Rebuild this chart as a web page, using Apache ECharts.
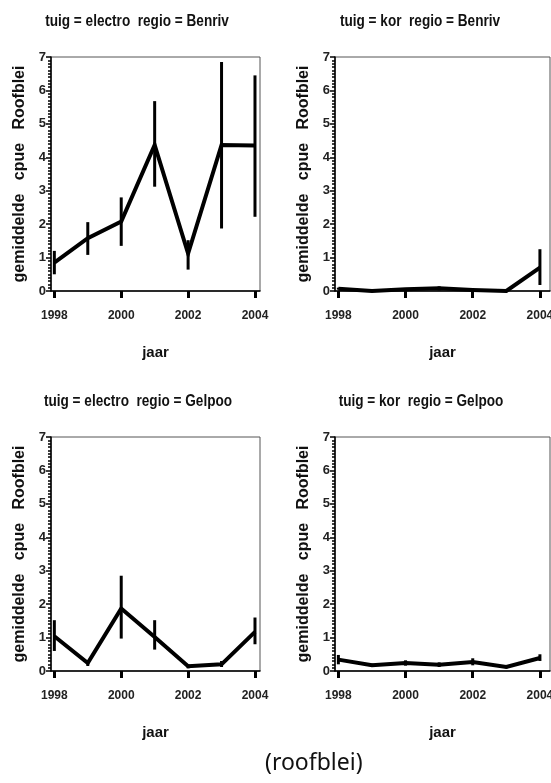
<!DOCTYPE html>
<html>
<head>
<meta charset="utf-8">
<script src="https://cdn.jsdelivr.net/npm/echarts@6/dist/echarts.min.js"></script>
<style>html,body{margin:0;padding:0;background:#fff}#c{width:551px;height:783px}</style>
</head>
<body>
<div id="c"></div>
<script>
var years = [1998, 1999, 2000, 2001, 2002, 2003, 2004];
var xTickYears = [1998, 2000, 2002, 2004];
var panelTitles = ['tuig = electro  regio = Benriv', 'tuig = kor  regio = Benriv', 'tuig = electro  regio = Gelpoo', 'tuig = kor  regio = Gelpoo'];

var electroBenrivMean = [0.85, 1.58, 2.08, 4.37, 1.12, 4.37, 4.35];
var electroBenrivLow  = [0.50, 1.08, 1.35, 3.12, 0.64, 1.87, 2.22];
var electroBenrivHigh = [1.20, 2.06, 2.80, 5.68, 1.52, 6.85, 6.45];

var korBenrivMean = [0.07, 0.00, 0.05, 0.08, 0.03, 0.00, 0.70];
var korBenrivLow  = [0.04, 0.00, 0.03, 0.02, 0.02, 0.00, 0.18];
var korBenrivHigh = [0.10, 0.00, 0.08, 0.14, 0.05, 0.00, 1.25];

var electroGelpooMean = [1.04, 0.24, 1.87, 1.02, 0.14, 0.20, 1.17];
var electroGelpooLow  = [0.60, 0.15, 0.97, 0.64, 0.08, 0.12, 0.80];
var electroGelpooHigh = [1.52, 0.33, 2.85, 1.52, 0.20, 0.30, 1.60];

var korGelpooMean = [0.34, 0.17, 0.24, 0.19, 0.27, 0.12, 0.39];
var korGelpooLow  = [0.20, 0.12, 0.16, 0.12, 0.17, 0.08, 0.30];
var korGelpooHigh = [0.48, 0.22, 0.32, 0.26, 0.38, 0.16, 0.50];

var panels = [
  {mean: electroBenrivMean, low: electroBenrivLow, high: electroBenrivHigh},
  {mean: korBenrivMean, low: korBenrivLow, high: korBenrivHigh},
  {mean: electroGelpooMean, low: electroGelpooLow, high: electroGelpooHigh},
  {mean: korGelpooMean, low: korGelpooLow, high: korGelpooHigh}
];

var sans = '"Liberation Sans", Arial, Helvetica, sans-serif';

var layout = [
  {left: 51, top: 57, width: 209, height: 234, xmin: 1997.9, xmax: 2004.15, tx: 137, ty: 21},
  {left: 335, top: 57, width: 215, height: 234, xmin: 1997.9, xmax: 2004.3, tx: 420, ty: 21},
  {left: 51, top: 437, width: 209, height: 234, xmin: 1997.9, xmax: 2004.15, tx: 138, ty: 401},
  {left: 335, top: 437, width: 215, height: 234, xmin: 1997.9, xmax: 2004.3, tx: 421, ty: 401}
];

var grids = [], xAxes = [], yAxes = [], series = [], graphics = [];
layout.forEach(function (L, i) {
  grids.push({left: L.left, top: L.top, width: L.width, height: L.height, show: true,
    outerBoundsMode: 'none', containLabel: false,
    borderColor: '#555', borderWidth: 1, backgroundColor: '#fff'});
  graphics.push({type: 'text', x: L.tx, y: L.ty, scaleX: 0.8, scaleY: 1,
    style: {text: panelTitles[i], align: 'center', verticalAlign: 'middle',
      font: 'bold 17px ' + sans, fill: '#111'}});
  xAxes.push({type: 'value', gridIndex: i, min: L.xmin, max: L.xmax,
    name: 'jaar', nameLocation: 'middle', nameGap: 54,
    nameTextStyle: {fontFamily: sans, fontWeight: 'bold', fontSize: 15, color: '#111'},
    splitLine: {show: false},
    axisLine: {show: true, onZero: false, lineStyle: {color: '#000', width: 1.5}},
    axisTick: {show: true, customValues: xTickYears, length: 7, lineStyle: {color: '#000', width: 3}},
    axisLabel: {customValues: xTickYears, margin: 19, fontFamily: sans, fontWeight: 'bold', fontSize: 12, color: '#222',
      hideOverlap: false, formatter: function (v) { return String(Math.round(v)); }}
  });
  yAxes.push({type: 'value', gridIndex: i, min: 0, max: 7, interval: 1,
    name: 'gemiddelde   cpue   Roofblei', nameLocation: 'middle', nameGap: 23, nameRotate: 90,
    nameTextStyle: {fontFamily: sans, fontWeight: 'bold', fontSize: 16, color: '#111'},
    splitLine: {show: false},
    axisLine: {show: true, lineStyle: {color: '#000', width: 1.5}},
    axisTick: {show: true, length: 5, lineStyle: {color: '#000', width: 1.5}},
    minorTick: {show: true, splitNumber: 10, length: 3, lineStyle: {color: '#000', width: 1.5}},
    minorSplitLine: {show: false},
    axisLabel: {margin: 5, fontFamily: sans, fontWeight: 'bold', fontSize: 13, color: '#222'}
  });
  var P = panels[i];
  series.push({type: 'line', xAxisIndex: i, yAxisIndex: i, symbol: 'none', z: 3,
    lineStyle: {color: '#000', width: 4, join: 'miter'},
    data: years.map(function (y, k) { return [y, P.mean[k]]; })});
  series.push({type: 'custom', xAxisIndex: i, yAxisIndex: i, z: 4,
    data: years.map(function (y, k) { return [y, P.low[k], P.high[k]]; }),
    renderItem: function (params, api) {
      var a = api.coord([api.value(0), api.value(1)]);
      var b = api.coord([api.value(0), api.value(2)]);
      return {type: 'line', shape: {x1: a[0], y1: a[1], x2: b[0], y2: b[1]},
        style: {stroke: '#000', lineWidth: 3}};
    }});
});

graphics.push({type: 'text', left: 265, top: 752,
  style: {text: '(roofblei)', font: '23px "Noto Sans", "Open Sans", sans-serif', fill: '#111'}});

var chart = echarts.init(document.getElementById('c'), null, {renderer: 'canvas'});
chart.setOption({
  backgroundColor: '#fff',
  animation: false,
  grid: grids,
  xAxis: xAxes,
  yAxis: yAxes,
  series: series,
  graphic: graphics
});
</script>
</body>
</html>
